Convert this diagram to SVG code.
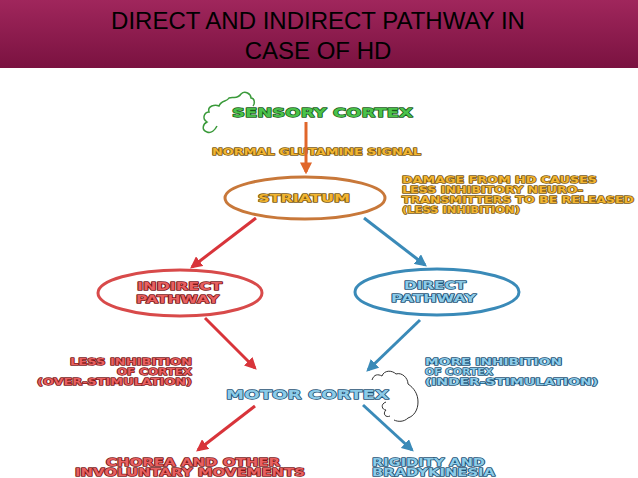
<svg xmlns="http://www.w3.org/2000/svg" width="638" height="478" viewBox="0 0 638 478">
<defs>
<linearGradient id="hd" x1="0" y1="0" x2="0" y2="1"><stop offset="0" stop-color="#a0265c"/><stop offset="1" stop-color="#7a1240"/></linearGradient>
<marker id="ao" viewBox="0 0 10 10" refX="8" refY="5" markerWidth="4" markerHeight="4" orient="auto"><path d="M0,0L10,5L0,10z" fill="#e0662a"/></marker>
<marker id="ar" viewBox="0 0 10 10" refX="8" refY="5" markerWidth="4" markerHeight="4" orient="auto"><path d="M0,0L10,5L0,10z" fill="#d8343a"/></marker>
<marker id="ab" viewBox="0 0 10 10" refX="8" refY="5" markerWidth="4" markerHeight="4" orient="auto"><path d="M0,0L10,5L0,10z" fill="#3a8ab8"/></marker>
<style>
.t{font-family:"DejaVu Sans",Verdana,sans-serif;font-weight:bold;paint-order:stroke;stroke-width:1.4;stroke-linejoin:round}
.y{fill:#f2b531;stroke:#7a5a14;font-size:9px}
.r{fill:#e86060;stroke:#7a1818;font-size:9px}
.b{fill:#8ccbe8;stroke:#1e5275;font-size:9px}
</style>
</defs>
<rect width="638" height="478" fill="#fff"/>
<rect width="638" height="68" fill="url(#hd)"/>
<text x="318" y="29" text-anchor="middle" font-family="Liberation Sans,Arial,sans-serif" font-size="24">DIRECT AND  INDIRECT PATHWAY IN</text>
<text x="318" y="59" text-anchor="middle" font-family="Liberation Sans,Arial,sans-serif" font-size="24">CASE OF HD</text>
<g id="sensory"><path d="M207,132 c-6,-2 -4,-8 0,-10 c-6,-4 -2,-10 2,-10 c-2,-6 6,-8 10,-6 c2,-6 8,-4 10,-8 c4,-2 8,2 12,-4 c4,-4 10,0 10,4 c4,0 4,6 2,8 M207,132 c4,2 8,-2 10,-6" fill="none" stroke="#3a9a3a" stroke-width="1.5"/>
<text class="t" x="232" y="117" textLength="181" lengthAdjust="spacingAndGlyphs" style="fill:#4ac24a;stroke:#1a5a1a;font-size:13px">SENSORY CORTEX</text></g>
<g id="glut"><text class="t y" x="212" y="155" textLength="209" lengthAdjust="spacingAndGlyphs">NORMAL GLUTAMINE SIGNAL</text></g>
<g id="striatum"><ellipse cx="305" cy="198" rx="80" ry="21" fill="none" stroke="#c8783a" stroke-width="3"/><text class="t y" x="258" y="202" textLength="92" lengthAdjust="spacingAndGlyphs" style="font-size:10px">STRIATUM</text></g>
<g id="damage"><text class="t y" x="402" y="183" textLength="195" lengthAdjust="spacingAndGlyphs">DAMAGE FROM HD CAUSES</text><text class="t y" x="402" y="193" textLength="181" lengthAdjust="spacingAndGlyphs">LESS INHIBITORY NEURO-</text><text class="t y" x="402" y="203" textLength="232" lengthAdjust="spacingAndGlyphs">TRANSMITTERS TO BE RELEASED</text><text class="t y" x="402" y="213" textLength="118" lengthAdjust="spacingAndGlyphs">(LESS INHIBITION)</text></g>
<g id="indirect"><ellipse cx="180" cy="293" rx="82" ry="23" fill="none" stroke="#d84a4a" stroke-width="3"/><text class="t r" x="137" y="290" textLength="85" lengthAdjust="spacingAndGlyphs" style="font-size:10px">INDIRECT</text><text class="t r" x="136" y="303" textLength="83" lengthAdjust="spacingAndGlyphs" style="font-size:10px">PATHWAY</text></g>
<g id="direct"><ellipse cx="437" cy="292" rx="82" ry="23" fill="none" stroke="#3a8ab8" stroke-width="3"/><text class="t b" x="404" y="289" textLength="62" lengthAdjust="spacingAndGlyphs" style="font-size:10px">DIRECT</text><text class="t b" x="391" y="302" textLength="85" lengthAdjust="spacingAndGlyphs" style="font-size:10px">PATHWAY</text></g>
<g id="lessinh"><text class="t r" x="70" y="365" textLength="122" lengthAdjust="spacingAndGlyphs">LESS INHIBITION</text><text class="t r" x="117" y="375" textLength="75" lengthAdjust="spacingAndGlyphs">OF CORTEX</text><text class="t r" x="37" y="385" textLength="155" lengthAdjust="spacingAndGlyphs">(OVER-STIMULATION)</text></g>
<g id="moreinh"><text class="t b" x="425" y="365" textLength="137" lengthAdjust="spacingAndGlyphs">MORE INHIBITION</text><text class="t b" x="425" y="375" textLength="68" lengthAdjust="spacingAndGlyphs">OF CORTEX</text><text class="t b" x="425" y="385" textLength="173" lengthAdjust="spacingAndGlyphs">(INDER-STIMULATION)</text></g>
<g id="motor"><path d="M372,380 c2,-6 6,-6 10,-4 c2,-6 10,-6 14,-2 c6,-2 12,4 12,10 c6,4 10,10 10,18 c0,8 -4,14 -10,16 c-4,4 -10,4 -14,2 M386,402 c-6,2 -4,8 0,8 c-4,4 0,8 4,6" fill="none" stroke="#333" stroke-width="1"/>
<text class="t b" x="226" y="399" textLength="163" lengthAdjust="spacingAndGlyphs" style="font-size:13px">MOTOR CORTEX</text></g>
<g id="chorea"><text class="t r" x="106" y="466" textLength="174" lengthAdjust="spacingAndGlyphs" style="font-size:10px">CHOREA AND OTHER</text><text class="t r" x="75" y="476" textLength="230" lengthAdjust="spacingAndGlyphs" style="font-size:10px">INVOLUNTARY MOVEMENTS</text></g>
<g id="rigid"><text class="t b" x="372" y="466" textLength="113" lengthAdjust="spacingAndGlyphs" style="font-size:10px">RIGIDITY AND</text><text class="t b" x="372" y="476" textLength="123" lengthAdjust="spacingAndGlyphs" style="font-size:10px">BRADYKINESIA</text></g>
<g id="connectors" stroke-width="3" fill="none">
<line x1="306" y1="122" x2="306" y2="172" stroke="#e0662a" marker-end="url(#ao)"/>
<line x1="256" y1="218" x2="192" y2="267" stroke="#d8343a" marker-end="url(#ar)"/>
<line x1="364" y1="218" x2="425" y2="265" stroke="#3a8ab8" marker-end="url(#ab)"/>
<line x1="205" y1="318" x2="255" y2="368" stroke="#d8343a" marker-end="url(#ar)"/>
<line x1="420" y1="320" x2="368" y2="370" stroke="#3a8ab8" marker-end="url(#ab)"/>
<line x1="255" y1="406" x2="198" y2="450" stroke="#d8343a" marker-end="url(#ar)"/>
<line x1="363" y1="405" x2="412" y2="450" stroke="#3a8ab8" marker-end="url(#ab)"/>
</g>
</svg>
